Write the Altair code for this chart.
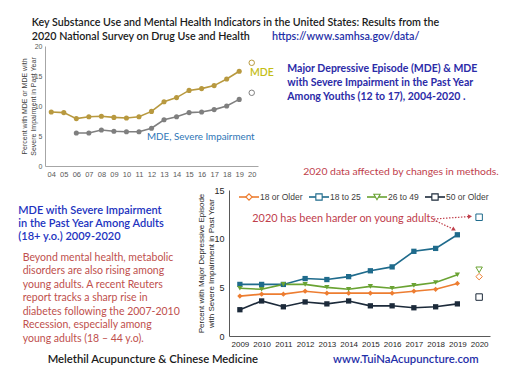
import altair as alt
import pandas as pd

# ---------------- data ----------------
youth_years = ["04", "05", "06", "07", "08", "09", "10", "11", "12",
               "13", "14", "15", "16", "17", "18", "19", "20"]
youth_series = ["MDE", "MDE, Severe Impairment"]
youth_mde = [9.0, 8.9, 7.9, 8.2, 8.3, 8.1, 8.0, 8.2, 9.1,
             10.7, 11.4, 12.6, 12.9, 13.4, 14.5, 15.8, 17.2]
youth_severe = [None, None, 5.5, 5.5, 6.0, 5.8, 5.7, 5.7, 6.3,
                7.7, 8.2, 8.9, 9.0, 9.4, 10.0, 11.1, 12.2]
youth_colors = ["#b8993f", "#7f7f7f"]

adult_years = ["2009", "2010", "2011", "2012", "2013", "2014",
               "2015", "2016", "2017", "2018", "2019", "2020"]
adult_groups = ["18 or Older", "18 to 25", "26 to 49", "50 or Older"]
adult_18_older = [4.1, 4.3, 4.3, 4.6, 4.4, 4.4, 4.4, 4.4, 4.6, 4.8, 5.4, 6.1]
adult_18_25 = [5.3, 5.3, 5.3, 5.9, 5.8, 6.1, 6.7, 7.1, 8.7, 9.0, 10.4, 12.2]
adult_26_49 = [4.9, 4.8, 5.3, 5.3, 5.0, 4.8, 5.1, 4.9, 5.2, 5.5, 6.3, 6.8]
adult_50_older = [2.7, 3.6, 3.0, 3.5, 3.3, 3.6, 3.1, 3.1, 2.9, 3.0, 3.3, 4.0]
adult_colors = ["#ed7d31", "#1f6b8c", "#6aa333", "#1c2a3a"]
adult_shapes = ["diamond", "square", "triangle-down", "square"]

title_lines = ["Key Substance Use and Mental Health Indicators in the United States: Results from the",
               "2020 National Survey on Drug Use and Health"]
source_url = "https://www.samhsa.gov/data/"
youth_heading = ["Major Depressive Episode (MDE) & MDE",
                 "with Severe Impairment in the Past Year",
                 "Among Youths (12 to 17), 2004-2020 ."]
adult_heading = ["MDE with Severe Impairment",
                 "in the Past Year Among Adults",
                 "(18+ y.o.) 2009-2020"]
paragraph = ["Beyond mental health, metabolic",
             "disorders are also rising among",
             "young adults.  A recent Reuters",
             "report tracks a sharp rise in",
             "diabetes following the 2007-2010",
             "Recession, especially among",
             "young adults (18 \u2013 44 y.o)."]
method_note = "2020 data affected  by changes in methods."
young_note = "2020 has been harder on young adults."
footer_left = "Melethil Acupuncture  & Chinese Medicine"
footer_right = "www.TuiNaAcupuncture.com"

# ---------------- layout (pixels, chart coordinates) ----------------
W, H = 496, 368
TOP_X = [37, 250]
TOP_Y = [158, 38]
BOT_X = [221, 482]
BOT_Y = [328, 182]
AXF = "Liberation Sans, Arial, sans-serif"
MAIN = "Lato, Carlito, Calibri, sans-serif"

# ---------------- tables ----------------
yrows = []
for s, vals in zip(youth_series, [youth_mde, youth_severe]):
    for yr, v in zip(youth_years, vals):
        if v is not None:
            yrows.append({"yr": yr, "series": s, "pct": v})
ydf = pd.DataFrame(yrows)
ydf_line = ydf[ydf.yr != youth_years[-1]]
ydf_last = ydf[ydf.yr == youth_years[-1]]

arows = []
for g, vals in zip(adult_groups, [adult_18_older, adult_18_25, adult_26_49, adult_50_older]):
    for yr, v in zip(adult_years, vals):
        arows.append({"year": yr, "group": g, "pct": v})
adf = pd.DataFrame(arows)
adf_line = adf[adf.year != adult_years[-1]]
adf_last = adf[adf.year == adult_years[-1]]

# ---------------- youth chart ----------------
yx = alt.X("yr:O", scale=alt.Scale(type="point", domain=youth_years, range=TOP_X, padding=0.5),
           axis=alt.Axis(orient="bottom", offset=-(H - TOP_Y[0]), title=None, labelAngle=0,
                         ticks=False, domainColor="#a6a6a6", labelColor="#595959",
                         labelFont=AXF, labelFontSize=7.5, labelPadding=4))
yy = alt.Y("pct:Q", scale=alt.Scale(domain=[0, 20], range=TOP_Y, nice=False, zero=True),
           axis=alt.Axis(orient="left", offset=-TOP_X[0], values=[0, 5, 10, 15, 20], grid=False,
                         ticks=False, domainColor="#a6a6a6", labelColor="#595959",
                         labelFont=AXF, labelFontSize=7, labelPadding=3,
                         title=["Percent with MDE or MDE with", "Severe Impairment in Past Year"],
                         titleFont=AXF, titleFontSize=7, titleFontWeight="normal",
                         titleColor="#404040", titlePadding=-2, titleLineHeight=9))
ycol = alt.Color("series:N", scale=alt.Scale(domain=youth_series, range=youth_colors), legend=None)

youth = alt.layer(
    alt.Chart(ydf_line).mark_line(strokeWidth=1.6).encode(x=yx, y=yy, color=ycol, detail="series:N"),
    alt.Chart(ydf_line).mark_point(filled=True, size=26, opacity=1).encode(x=yx, y=yy, color=ycol),
    alt.Chart(ydf_last).mark_point(filled=False, fill="white", size=30, strokeWidth=1, opacity=1).encode(
        x=yx, y=yy, color=ycol),
)

# ---------------- adult chart ----------------
ax = alt.X("year:O", scale=alt.Scale(type="point", domain=adult_years, range=BOT_X, padding=0.5),
           axis=alt.Axis(orient="bottom", offset=-(H - BOT_Y[0]), title=None, labelAngle=0,
                         ticks=False, domainColor="#595959", labelColor="#262626",
                         labelFont=AXF, labelFontSize=8, labelPadding=4))
ay = alt.Y("pct:Q", scale=alt.Scale(domain=[0, 15], range=BOT_Y, nice=False),
           axis=alt.Axis(orient="left", offset=-BOT_X[0], values=[0, 5, 10, 15], grid=False,
                         ticks=False, domainColor="#595959", labelColor="#262626",
                         labelFont=AXF, labelFontSize=9, labelPadding=5,
                         title=["Percent with Major Depressive Episode",
                                "with Severe Impairment in Past Year"],
                         titleFont=AXF, titleFontSize=8, titleFontWeight="normal",
                         titleColor="#262626", titlePadding=-2, titleLineHeight=10.5))
acol = alt.Color("group:N", scale=alt.Scale(domain=adult_groups, range=adult_colors), legend=None)
ashape = alt.Shape("group:N", scale=alt.Scale(domain=adult_groups, range=adult_shapes), legend=None)

adult = alt.layer(
    alt.Chart(adf_line).mark_line(strokeWidth=1.6).encode(x=ax, y=ay, color=acol, detail="group:N"),
    alt.Chart(adf_line).mark_point(filled=True, size=28, opacity=1).encode(
        x=ax, y=ay, color=acol, shape=ashape),
    alt.Chart(adf_last).mark_point(filled=False, fill="white", size=42, strokeWidth=1, opacity=1).encode(
        x=ax, y=ay, color=acol, shape=ashape),
)

# ---------------- legend for adult chart ----------------
leg_sym_x = [241, 311, 369, 427]
leg_y = 189
ldf = pd.DataFrame({"group": adult_groups, "sx": leg_sym_x,
                    "x0": [v - 10 for v in leg_sym_x], "x1": [v + 10 for v in leg_sym_x],
                    "tx": [v + 11 for v in leg_sym_x], "ly": [leg_y] * 4})
lcol = alt.Color("group:N", scale=alt.Scale(domain=adult_groups, range=adult_colors), legend=None)
lshape = alt.Shape("group:N", scale=alt.Scale(domain=adult_groups, range=adult_shapes), legend=None)
legend_layers = [
    alt.Chart(ldf).mark_rule(strokeWidth=1.6).encode(
        x=alt.X("x0:Q", scale=None), x2="x1:Q", y=alt.Y("ly:Q", scale=None), color=lcol),
    alt.Chart(ldf).mark_point(filled=False, fill="white", size=40, strokeWidth=1.1, opacity=1).encode(
        x=alt.X("sx:Q", scale=None), y=alt.Y("ly:Q", scale=None), color=lcol, shape=lshape),
    alt.Chart(ldf).mark_text(align="left", baseline="middle", font=AXF, fontSize=8.5,
                             color="#404040").encode(
        x=alt.X("tx:Q", scale=None), y=alt.Y("ly:Q", scale=None), text="group:N"),
]


# ---------------- text ----------------
def text_block(lines, x, ys, color, size, weight="normal", font=MAIN):
    df = pd.DataFrame({"t": lines, "px": [x] * len(lines), "py": ys})
    return alt.Chart(df).mark_text(align="left", baseline="middle", font=font, fontSize=size,
                                   fontWeight=weight, color=color).encode(
        x=alt.X("px:Q", scale=None), y=alt.Y("py:Q", scale=None), text="t:N")


texts = [
    text_block(title_lines, 23.7, [15.3, 28.7], "#1a1a1a", 10.7, 600),
    text_block([source_url], 264, [28.7], "#1f2fa8", 10.8, 600),
    text_block(youth_heading, 279.3, [61.3, 75, 88.7], "#2b2ba8", 10.5, "bold"),
    text_block(["MDE"], 242, [65], "#c4bd14", 10.5, 600),
    text_block([youth_series[1]], 139, [129], "#2e75b6", 9.8),
    text_block([method_note], 295.3, [163.7], "#c0404c", 10.4),
    text_block(adult_heading, 10.3, [202.7, 216, 229.3], "#2233c0", 11, 600),
    text_block(paragraph, 14.7, [249.7, 263.3, 277, 290.3, 304, 317.3, 331], "#c0504d", 10.5),
    text_block([footer_left], 39.7, [352], "#1a1a1a", 11.3, 600),
    text_block([footer_right], 325, [352], "#1f2fa8", 11.3, 600),
    text_block([young_note], 244.3, [211.3], "#c0404c", 10.9),
]

# dotted arrows for the annotation
arr = pd.DataFrame({"x0": [426, 428], "y0": [211, 213], "x1": [462, 446], "y1": [208.5, 221.5],
                    "ang": [-4, 28]})
arrows = [
    alt.Chart(arr).mark_rule(color="#c0404c", strokeWidth=1.2, strokeDash=[1.5, 1.5]).encode(
        x=alt.X("x0:Q", scale=None), y=alt.Y("y0:Q", scale=None), x2="x1:Q", y2="y1:Q"),
    alt.Chart(arr).mark_point(shape="triangle-right", filled=True, color="#c0404c", size=22,
                              opacity=1).encode(
        x=alt.X("x1:Q", scale=None), y=alt.Y("y1:Q", scale=None), angle=alt.Angle("ang:Q", scale=None)),
]

chart = alt.layer(youth, adult, *legend_layers, *texts, *arrows).resolve_scale(
    x="independent", y="independent", color="independent", shape="independent"
).resolve_axis(x="independent", y="independent").properties(
    width=W, height=H, autosize=alt.AutoSizeParams(type="none"), padding=0,
    background="white"
).configure_view(stroke=None)

chart.save("out.html", embed_options={"renderer": "svg", "actions": False})
